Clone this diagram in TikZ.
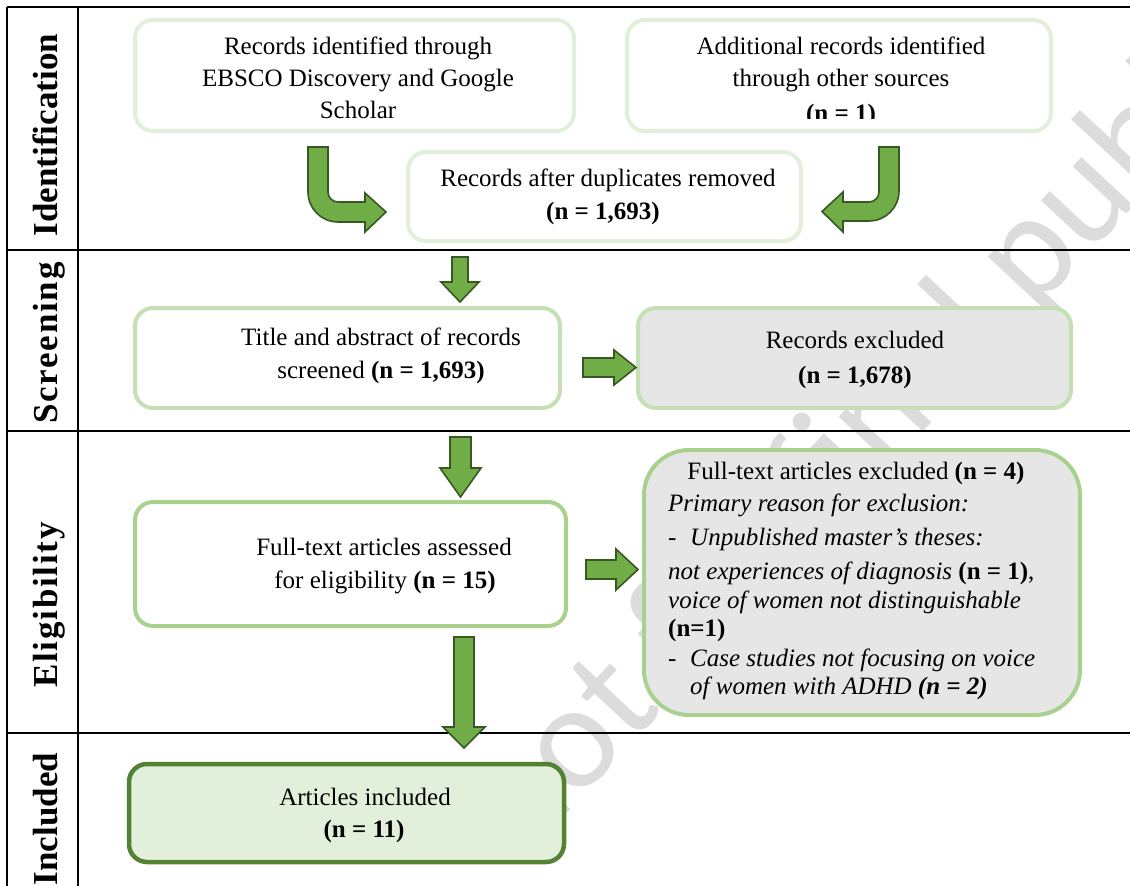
\documentclass[tikz,border=0pt]{standalone}
\usepackage{fontspec}
\setmainfont{Liberation Serif}
\newfontfamily\wmfont{Carlito}
\definecolor{lgreen}{HTML}{E2EFDA}
\definecolor{mgreen}{HTML}{C5E0B4}
\definecolor{sgreen}{HTML}{A9D18E}
\definecolor{dgreen}{HTML}{548235}
\definecolor{afill}{HTML}{70AD47}
\definecolor{aline}{HTML}{385723}
\definecolor{gfill}{HTML}{E7E6E6}
\definecolor{wmgray}{HTML}{DCDCDC}
\begin{document}
\begin{tikzpicture}[x=1pt,y=-1pt,
  box/.style={draw, fill=white, rounded corners=18pt, line width=4pt, inner sep=0pt},
  txt/.style={inner sep=0pt, font=\fontsize{25}{32}\selectfont, anchor=base},
  ltxt/.style={txt, anchor=base west},
  lab/.style={inner sep=0pt, rotate=90, anchor=base, font=\fontsize{35}{40}\selectfont\bfseries},
  blk/.style={fill=afill, draw=aline, line width=1.6pt, line join=miter},
  rulethick/.style={line width=2pt, black},
  rulethin/.style={line width=1.3pt, black}]
\useasboundingbox (0,0) rectangle (1130,886);

% watermark
\node[rotate=47, anchor=base west, inner sep=0pt, text=wmgray,
      font=\wmfont\fontsize{150}{150}\selectfont] (wm) at (523,861) {not for final publication};

% table rules
\draw[rulethick] (7,7) -- (1130,7);
\draw[rulethick] (7,7) -- (7,886);
\draw[rulethin] (78,7) -- (78,886);
\draw[rulethick] (7,250) -- (1130,250);
\draw[rulethin] (7,431) -- (1130,431);
\draw[rulethin] (7,733) -- (1130,733);

% row labels
\node[lab] (lid) at (57,135) {Identification};
\node[lab] (lsc) at (57,343) {\addfontfeature{LetterSpace=5}Screening};
\node[lab] (lel) at (57,605) {\addfontfeature{LetterSpace=5}Eligibility};
\node[lab] (lin) at (57,819) {Included};

% boxes
\node[box, draw=lgreen, minimum width=439, minimum height=111] (b1) at (354.5,75.5) {};
\node[box, draw=lgreen, minimum width=424, minimum height=111] (b2) at (839,75.5) {};
\node[box, draw=lgreen, minimum width=393, minimum height=89] (b3) at (604.5,196.5) {};
\node[box, draw=mgreen, minimum width=425, minimum height=100] (b4) at (347.5,358) {};
\node[box, draw=mgreen, fill=gfill, minimum width=433, minimum height=100] (b5) at (854.5,358) {};
\node[box, draw=sgreen, minimum width=431, minimum height=124] (b6) at (350.5,564) {};
\node[box, draw=sgreen, fill=gfill, rounded corners=45pt, minimum width=436, minimum height=265] (b7) at (862,582.5) {};
\node[box, draw=dgreen, fill=lgreen, line width=4.5pt, minimum width=435, minimum height=98] (b8) at (346.5,813) {};

% texts
\node[txt] (t1a) at (358,54) {Records identified through};
\node[txt] (t1b) at (358,86) {EBSCO Discovery and Google};
\node[txt] (t1c) at (358,118) {Scholar};

\node[txt] (t2a) at (841,54) {Additional records identified};
\node[txt] (t2b) at (841,86) {through other sources};
\begin{scope}
  \clip (600,20) rectangle (1080,118);
  \node[txt] (t2c) at (841,121) {\textbf{(n = 1)}};
\end{scope}

\node[txt] (t3a) at (608,186) {Records after duplicates removed};
\node[txt] (t3b) at (603,219) {\textbf{(n = 1,693)}};

\node[txt] (t4a) at (381,345) {Title and abstract of records};
\node[txt] (t4b) at (381,378) {screened \textbf{(n = 1,693)}};

\node[txt] (t5a) at (855,348) {Records excluded};
\node[txt] (t5b) at (855,383) {\textbf{(n = 1,678)}};

\node[txt] (t6a) at (384,555) {Full-text articles assessed};
\node[txt] (t6b) at (385,588) {for eligibility \textbf{(n = 15)}};

\node[txt] (t7a) at (856,479) {Full-text articles excluded \textbf{(n = 4)}};
\node[ltxt] (t7b) at (668,511) {\itshape Primary reason for exclusion:};
\node[ltxt] (t7c) at (668,545) {\makebox[22pt][l]{-}\itshape Unpublished master’s theses:};
\node[ltxt] (t7d) at (668,579) {\itshape not experiences of diagnosis \upshape\textbf{(n = 1)},};
\node[ltxt] (t7e) at (668,608) {\itshape voice of women not distinguishable};
\node[ltxt] (t7f) at (668,636) {\textbf{(n=1)}};
\node[ltxt] (t7g) at (668,666) {\makebox[22pt][l]{-}\itshape Case studies not focusing on voice};
\node[ltxt] (t7h) at (690,694) {\itshape of women with ADHD \textbf{(n = 2)}};

\node[txt] (t8a) at (365,805) {Articles included};
\node[txt] (t8b) at (364,837) {\textbf{(n = 11)}};

% bent arrows
\draw[blk] (308,147) -- (328,147) -- (328,192)
  .. controls (328,197.5) and (332.5,202) .. (338,202)
  -- (365,202) -- (365,193) -- (386,212) -- (365,232) -- (365,222) -- (338,222)
  .. controls (321.4,222) and (308,208.6) .. (308,192) -- cycle;
\draw[blk] (879,147) -- (899,147) -- (899,191)
  .. controls (899,207.6) and (885.6,221) .. (869,221)
  -- (843,221) -- (843,232) -- (822,211.5) -- (843,192) -- (843,202) -- (869,202)
  .. controls (874.5,202) and (879,197.5) .. (879,192) -- cycle;

% straight block arrows
\draw[blk] (452,257) -- (468,257) -- (468,282) -- (479,282) -- (460,302) -- (441,282) -- (452,282) -- cycle;
\draw[blk] (583,358) -- (614,358) -- (614,350) -- (636,367.5) -- (614,385) -- (614,377) -- (583,377) -- cycle;
\draw[blk] (450,437) -- (471,437) -- (471,468) -- (481,468) -- (460.5,497) -- (440,468) -- (450,468) -- cycle;
\draw[blk] (586,560) -- (616,560) -- (616,549) -- (638,569.5) -- (616,590) -- (616,579) -- (586,579) -- cycle;
\draw[blk] (454,637) -- (474,637) -- (474,727) -- (485,727) -- (464,748) -- (443,727) -- (454,727) -- cycle;
\end{tikzpicture}
\end{document}
